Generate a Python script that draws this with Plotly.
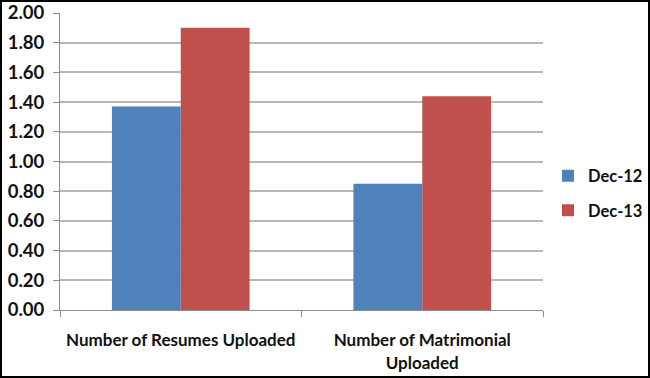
import plotly.graph_objects as go

categories = ["Number of Resumes Uploaded", "Number of Matrimonial<br>Uploaded"]
series_names = ["Dec-12", "Dec-13"]
dec12 = [1.37, 0.85]
dec13 = [1.90, 1.44]
colors = ["#4F81BD", "#C0504D"]
y_ticks = [0.0, 0.2, 0.4, 0.6, 0.8, 1.0, 1.2, 1.4, 1.6, 1.8, 2.0]

W, H = 650, 378
L, R, T, B = 60, 107, 13, 68
pw, ph = W - L - R, H - T - B

fig = go.Figure()
for name, vals, col in zip(series_names, [dec12, dec13], colors):
    fig.add_trace(go.Bar(x=categories, y=vals, name=name, marker_color=col,
                         marker_line_width=0, legendgroup=name))

fig.update_layout(
    width=W, height=H,
    margin=dict(l=L, r=R, t=T, b=B, pad=0, autoexpand=False),
    paper_bgcolor="white", plot_bgcolor="white",
    barmode="group", bargap=0.43, bargroupgap=0,
    font=dict(family="Lato, 'Open Sans', sans-serif", size=16, color="#111111"),
    showlegend=True,
    legend=dict(x=(548 - L) / pw, y=(T + ph - 193) / ph, xanchor="left", yanchor="middle",
                font=dict(family="Lato, sans-serif", size=16.5, color="#111111", weight="bold"),
                tracegroupgap=10, itemwidth=30, bgcolor="rgba(0,0,0,0)"),
    xaxis=dict(type="category", tickson="boundaries", ticks="outside", ticklen=6,
               tickcolor="#8c8c8c", tickwidth=1, showline=True, linecolor="#8c8c8c",
               linewidth=1, showgrid=False, automargin=False, ticklabelstandoff=15,
               tickfont=dict(family="Lato, sans-serif", size=17, color="#111111", weight="bold")),
    yaxis=dict(range=[0, 2.0], tickvals=y_ticks, tickformat=".2f", ticks="outside",
               ticklen=6, tickcolor="#8c8c8c", showline=True, linecolor="#8c8c8c",
               linewidth=1, showgrid=True, gridcolor="#b8b8b8", gridwidth=1.5,
               zeroline=False, automargin=False, ticklabelstandoff=5,
               tickfont=dict(family="Lato, sans-serif", size=18.5, color="#111111", weight="bold")),
    shapes=[dict(type="rect", xref="paper", yref="paper",
                 x0=(1 - L) / pw, x1=(W - 1 - L) / pw,
                 y0=(T + ph - (H - 1)) / ph, y1=(T + ph - 1) / ph,
                 line=dict(color="black", width=2), fillcolor="rgba(0,0,0,0)", layer="above")],
)

fig.write_html("out.html", config={"displayModeBar": False},
               post_script="document.body.style.margin='0';document.body.style.overflow='hidden';")
